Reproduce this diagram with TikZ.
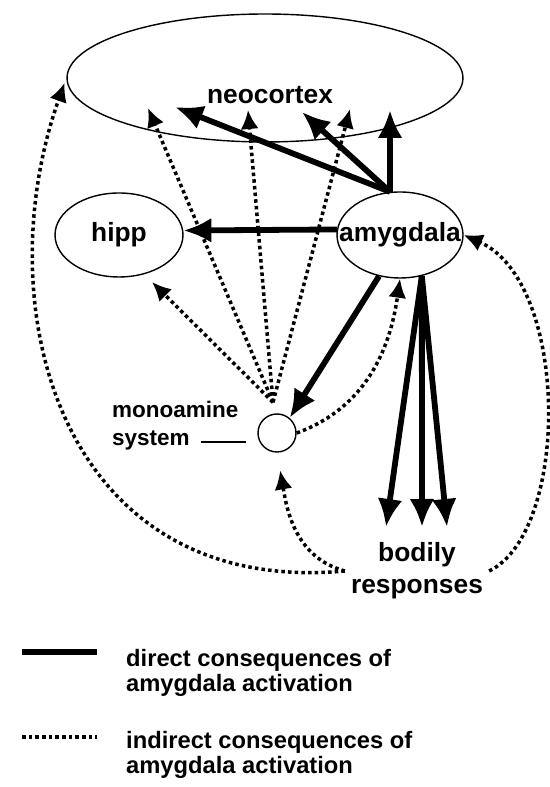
\documentclass[tikz,border=0pt]{standalone}
\usepackage{fontspec}
\setmainfont{Liberation Sans}
\usetikzlibrary{arrows.meta}
\usetikzlibrary{shapes}
\usetikzlibrary{calc}

\begin{document}
\begin{tikzpicture}[x=0.02cm, y=0.02cm,
		    every node/.style={font=\bfseries\fontsize{15}{18}\selectfont},
		    region/.style={ellipse, draw=black, line width=0.8pt, inner sep=0pt},
		    heavy/.style={line width=3.3pt},
		    dots/.style={line width=2pt, dash pattern=on 2pt off 1.8pt},
		    direct/.style={heavy, -{Latex[length=0.56cm, width=0.5cm]}},
		    indirect/.style={dots, -{Latex[length=0.38cm, width=0.36cm]}}]

\useasboundingbox (0,0) rectangle (549,787);

\node[region, minimum width=7.92cm, minimum height=2.56cm] (neo) at (265,709) {};
\node (neolbl) at (270,692) {neocortex};
\node[region, minimum width=2.56cm, minimum height=1.68cm] (hipp) at (119,552) {};
\node (hipplbl) at (hipp) {hipp};
\node[region, minimum width=2.52cm, minimum height=1.72cm] (amyg) at (400,552) {};
\node (amyglbl) at (amyg) {amygdala};
\node[circle, draw=black, line width=0.8pt, minimum size=0.76cm, inner sep=0pt] (mono) at (277,354) {};
\node[anchor=west, align=left, font=\bfseries\fontsize{12.8}{15.9}\selectfont] (monolbl) at (106,361) {monoamine\\system};
\node[align=center] (body) at (417,216) {bodily\\responses};

\coordinate (d1) at (175,680);
\coordinate (d2) at (302,675);
\coordinate (d3) at (390,677);
\coordinate (i1) at (148,679);
\coordinate (i2) at (248,677);
\coordinate (i3) at (350,678);
\coordinate (h1) at (152,505);
\coordinate (b1) at (386,260);
\coordinate (b2) at (422,260);
\coordinate (b3) at (447,260);
\coordinate (fan) at ($(mono.north)+(-4,11)$);

\draw[line width=0.8pt] ($(mono.west)+(-56,-9)$) -- ($(mono.west)+(-11,-9)$);

\draw[direct] (amyg.103) -- (d1);
\draw[direct] (amyg.103) -- (d2);
\draw[direct] (amyg.103) -- (d3);
\draw[direct] (amyg.175) -- (hipp.4);
\draw[direct] (amyg.243) -- (mono.50);
\draw[direct] (amyg.-62) -- (b1);
\draw[direct] (amyg.-62) -- (b2);
\draw[direct] (amyg.-62) -- (b3);

\draw[indirect] (fan) -- (i1);
\draw[indirect] (fan) -- (i2);
\draw[indirect] (fan) -- (i3);
\draw[indirect] (fan) -- (h1);
\draw[indirect] (mono.east) to[out=20, in=-98] (amyg.south);
\draw[indirect, shorten >=0.36cm] (body.west) to[out=165, in=-80] (mono.south);
\draw[indirect, shorten >=0.1cm] (body.west) .. controls (60,190) and (-15,480) .. (neo.west);
\draw[indirect] (body.east) .. controls (570,255) and (570,505) .. (amyg.east);

\node[anchor=west, align=left, font=\bfseries\fontsize{13.5}{14.2}\selectfont] (legdirect) at (120,114.5) {direct consequences of\\amygdala activation};
\node[anchor=west, align=left, font=\bfseries\fontsize{13.5}{14.2}\selectfont] (legindirect) at (120,32.5) {indirect consequences of\\amygdala activation};
\draw[heavy] ($(legdirect.west)+(-98,20.5)$) -- ++(75,0);
\draw[dots] ($(legindirect.west)+(-98,17.5)$) -- ++(75,0);
\end{tikzpicture}
\end{document}
